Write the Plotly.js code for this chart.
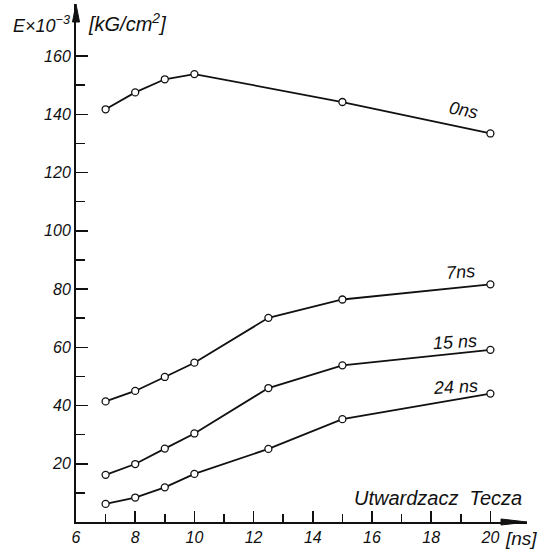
<!DOCTYPE html>
<html>
<head>
<meta charset="utf-8">
<script src="https://cdn.plot.ly/plotly-3.0.1.min.js"></script>
<style>
  html, body { margin: 0; padding: 0; background: #fff; }
  #chart { width: 546px; height: 551px; }
</style>
</head>
<body>
<div id="chart"></div>
<script>
// Curing time [ns] and modulus E x 10^-3 [kG/cm^2] for each hardener dose
const timeFull = [7, 8, 9, 10, 12.5, 15, 20];
const time0 = [7, 8, 9, 10, 15, 20];
const e0ns = [141.7, 147.5, 152.0, 153.8, 144.2, 133.4];
const e7ns = [41.4, 45.0, 49.8, 54.7, 70.1, 76.4, 81.6];
const e15ns = [16.2, 19.9, 25.2, 30.4, 46.0, 53.8, 59.1];
const e24ns = [6.2, 8.4, 11.9, 16.5, 25.1, 35.3, 44.1];

const seriesNames = ['0ns', '7ns', '15 ns', '24 ns'];

const xMajor = [6, 8, 10, 12, 14, 16, 18, 20];
const xMinor = [7, 9, 11, 13, 15, 17, 19];
const yMajor = [20, 40, 60, 80, 100, 120, 140, 160];
const yMinor = [10, 30, 50, 70, 90, 110, 130, 150];

const W = 546, H = 551;
const M = { l: 76, r: 19, t: 4, b: 29 };
const plotW = W - M.l - M.r, plotH = H - M.t - M.b;
const pxPerX = 29.6, pxPerY = 2.9125;
const xRange = [6, 6 + plotW / pxPerX];
const yRange = [0, plotH / pxPerY];

const paperX = p => (p - M.l) / plotW;
const paperY = p => (H - M.b - p) / plotH;

const FONT = 'Liberation Sans, Arial, sans-serif';
const ink = '#111';

function curve(x, y, name) {
  return {
    x: x, y: y, name: name, type: 'scatter', mode: 'lines+markers',
    line: { color: ink, width: 1.8 },
    marker: { symbol: 'circle', size: 7, color: '#fff', line: { color: ink, width: 1.3 } },
    cliponaxis: false
  };
}

const data = [
  curve(time0, e0ns, seriesNames[0]),
  curve(timeFull, e7ns, seriesNames[1]),
  curve(timeFull, e15ns, seriesNames[2]),
  curve(timeFull, e24ns, seriesNames[3])
];

function label(text, x, y, size, angle) {
  return {
    text: text, x: x, y: y, xref: 'x', yref: 'y', showarrow: false,
    textangle: angle || 0,
    font: { family: FONT, size: size, color: ink, style: 'italic' }
  };
}

function paperText(text, x, y, size, xanchor) {
  return {
    text: text, x: paperX(x), y: paperY(y), xref: 'paper', yref: 'paper',
    xanchor: xanchor, yanchor: 'middle', showarrow: false,
    font: { family: FONT, size: size, color: ink, style: 'italic' }
  };
}

const annotations = [
  label(seriesNames[0], 19.09, 141.3, 18, 11),
  label(seriesNames[1], 18.99, 85.7, 18, -4),
  label(seriesNames[2], 18.82, 61.8, 18, -3),
  label(seriesNames[3], 18.82, 46.2, 18, -3),
  paperText('E×10<sup>−3</sup>', 72, 24, 18, 'right'),
  paperText('[kG/cm<sup>2</sup>]', 86, 22, 20, 'left'),
  paperText('Utwardzacz\u00a0\u00a0Tecza', 524, 498, 20, 'right'),
  paperText('[ns]', 503, 538, 19, 'left')
];

// filled arrowheads at the ends of both axes
function tri(pts) {
  return 'M' + pts.map(p => paperX(p[0]) + ',' + paperY(p[1])).join(' L') + ' Z';
}
const shapes = [
  { type: 'path', xref: 'paper', yref: 'paper', fillcolor: ink, line: { color: ink, width: 1 },
    path: tri([[W - M.r, H - M.b], [W - M.r - 26, H - M.b - 3], [W - M.r - 26, H - M.b + 3]]) },
  { type: 'path', xref: 'paper', yref: 'paper', fillcolor: ink, line: { color: ink, width: 1 },
    path: tri([[M.l, M.t], [M.l - 3.5, M.t + 18], [M.l + 3.5, M.t + 18]]) }
];

const tickFont = { family: FONT, size: 16, color: ink, style: 'italic' };

const layout = {
  width: W, height: H,
  margin: M,
  paper_bgcolor: '#fff', plot_bgcolor: '#fff',
  showlegend: false,
  xaxis: {
    range: xRange, showgrid: false, zeroline: false,
    showline: true, linecolor: ink, linewidth: 2,
    tickmode: 'array', tickvals: xMajor, ticktext: xMajor.map(String),
    ticks: 'inside', ticklen: 11, tickwidth: 1.5, tickcolor: ink,
    tickfont: tickFont,
    minor: { tickmode: 'array', tickvals: xMinor, ticks: 'inside', ticklen: 8, tickwidth: 1.5, tickcolor: ink }
  },
  yaxis: {
    range: yRange, showgrid: false, zeroline: false,
    showline: true, linecolor: ink, linewidth: 2,
    tickmode: 'array', tickvals: yMajor, ticktext: yMajor.map(String),
    ticks: 'inside', ticklen: 12, tickwidth: 1.5, tickcolor: ink,
    tickfont: tickFont,
    minor: { tickmode: 'array', tickvals: yMinor, ticks: 'inside', ticklen: 9, tickwidth: 1.5, tickcolor: ink }
  },
  annotations: annotations,
  shapes: shapes
};

Plotly.newPlot('chart', data, layout, { staticPlot: true, displayModeBar: false });
</script>
</body>
</html>
